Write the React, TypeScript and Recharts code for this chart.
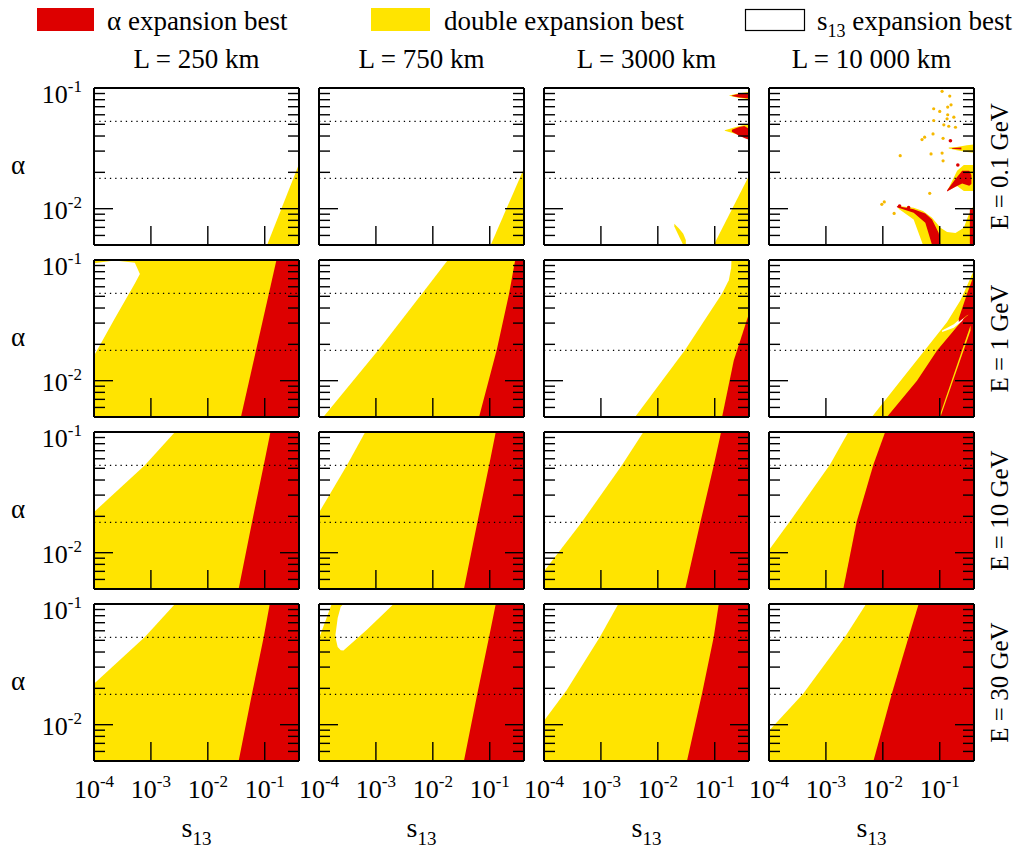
import React from "react";
import { Area, ComposedChart, ReferenceLine, Scatter, XAxis, YAxis } from "recharts";

const FONT = "'Liberation Serif', 'Times New Roman', serif";
const RED = "#dd0000";
const YELLOW = "#ffe400";

const S13_DOMAIN: [number, number] = [1e-4, 0.4];
const ALPHA_DOMAIN: [number, number] = [0.005, 0.1];

const xMajorTicks = [1e-4, 1e-3, 1e-2, 1e-1];
const xMinorTicks = [
  2e-4, 3e-4, 4e-4, 5e-4, 6e-4, 7e-4, 8e-4, 9e-4,
  2e-3, 3e-3, 4e-3, 5e-3, 6e-3, 7e-3, 8e-3, 9e-3,
  2e-2, 3e-2, 4e-2, 5e-2, 6e-2, 7e-2, 8e-2, 9e-2,
  0.2, 0.3,
];
const yMajorTicks = [0.01, 0.1];
const yMinorTicks = [0.006, 0.007, 0.008, 0.009, 0.02, 0.03, 0.04, 0.05, 0.06, 0.07, 0.08, 0.09];
const dottedAlpha = [0.0528, 0.0178];

const columnTitles = ["L = 250 km", "L = 750 km", "L = 3000 km", "L = 10 000 km"];
const rowTitles = ["E = 0.1 GeV", "E = 1 GeV", "E = 10 GeV", "E = 30 GeV"];

// each point: [s13, alpha low, alpha high]
type Pt = [number, number, number];

const fullPanel: Pt[] = [[1e-4, 0.005, 0.1], [0.4, 0.005, 0.1]];

// E = 0.1 GeV
const p11Yellow: Pt[] = [[0.11, 0.005, 0.005], [0.4, 0.005, 0.0234]];
const p12Yellow: Pt[] = [[0.104, 0.005, 0.005], [0.4, 0.005, 0.0216]];
const p13Yellow: Pt[] = [[0.096, 0.005, 0.005], [0.4, 0.005, 0.0187]];
const p13Sliver: Pt[] = [[0.0195, 0.0071, 0.0075], [0.024, 0.0058, 0.0068], [0.028, 0.005, 0.0062], [0.031, 0.005, 0.0055]];
const p13FlareY1: Pt[] = [[0.18, 0.0862, 0.0868], [0.27, 0.0825, 0.0905], [0.4, 0.0805, 0.0925]];
const p13FlareR1: Pt[] = [[0.2, 0.0858, 0.0866], [0.27, 0.0835, 0.0895], [0.4, 0.082, 0.091]];
const p13FlareY2: Pt[] = [[0.15, 0.0442, 0.0446], [0.22, 0.042, 0.047], [0.3, 0.04, 0.049], [0.4, 0.038, 0.05]];
const p13FlareR2: Pt[] = [[0.2, 0.0435, 0.045], [0.26, 0.0405, 0.0472], [0.33, 0.0385, 0.0485], [0.4, 0.0372, 0.046]];
const p14YellowBowl: Pt[] = [
  [0.0189, 0.01, 0.0105], [0.0348, 0.00815, 0.0102], [0.0508, 0.005, 0.00957], [0.0733, 0.005, 0.0084],
  [0.1028, 0.005, 0.00695], [0.1346, 0.005, 0.0064], [0.189, 0.005, 0.0063], [0.265, 0.005, 0.00695],
  [0.316, 0.005, 0.0087], [0.372, 0.005, 0.0102], [0.4, 0.005, 0.0105],
];
const p14RedCrescent: Pt[] = [
  [0.0177, 0.01026, 0.0105], [0.0348, 0.00926, 0.00987], [0.0558, 0.00764, 0.00914],
  [0.0733, 0.005, 0.00815], [0.096, 0.005, 0.0063], [0.1028, 0.005, 0.005],
];
const p14RedStrip: Pt[] = [[0.338, 0.005, 0.0099], [0.4, 0.005, 0.0099]];
const p14YellowUpper: Pt[] = [[0.138, 0.0141, 0.0143], [0.202, 0.01545, 0.0206], [0.265, 0.014, 0.023], [0.4, 0.014, 0.023]];
const p14RedClaw: Pt[] = [[0.1346, 0.0139, 0.0142], [0.189, 0.0152, 0.0176], [0.248, 0.0162, 0.0206], [0.33, 0.0155, 0.0206], [0.36, 0.016, 0.019]];
const p14YellowStreak: Pt[] = [[0.144, 0.0315, 0.0322], [0.2, 0.0305, 0.0325], [0.3, 0.0295, 0.0335], [0.4, 0.029, 0.034]];
const p14RedStreak: Pt[] = [[0.165, 0.0313, 0.0319], [0.24, 0.031, 0.0322]];
const dots14Yellow: [number, number][] = [
  [0.11, 0.0938], [0.15, 0.0858], [0.158, 0.0726], [0.138, 0.0695], [0.0783, 0.0673], [0.1, 0.064],
  [0.138, 0.06], [0.177, 0.0573], [0.0783, 0.0538], [0.1346, 0.0555], [0.118, 0.0495], [0.144, 0.0482],
  [0.189, 0.0473], [0.0762, 0.0416], [0.0543, 0.0391], [0.0488, 0.0374], [0.1145, 0.0383], [0.0703, 0.0284],
  [0.11, 0.0289], [0.0202, 0.0275], [0.1145, 0.0249], [0.0667, 0.0134], [0.0106, 0.01137], [0.0096, 0.01087],
  [0.0158, 0.00914],
];
const dots14Red: [number, number][] = [[0.154, 0.0366], [0.208, 0.023], [0.0284, 0.0102], [0.0197, 0.0105]];

// E = 1 GeV
const p21White: Pt[] = [[1e-4, 0.0161, 0.094], [2.317e-4, 0.0327, 0.099], [5.22e-4, 0.064, 0.095], [6.4e-4, 0.0764, 0.0764]];
const p21Red: Pt[] = [[0.0382, 0.005, 0.005], [0.1607, 0.005, 0.1], [0.4, 0.005, 0.1]];
const p22White: Pt[] = [[1e-4, 0.005, 0.1], [1.19e-4, 0.005, 0.1], [1.114e-3, 0.018, 0.1], [6.49e-3, 0.0527, 0.1], [1.84e-2, 0.1, 0.1]];
const p22Red: Pt[] = [[0.0649, 0.005, 0.005], [0.133, 0.005, 0.018], [0.219, 0.005, 0.0527], [0.28, 0.005, 0.1], [0.4, 0.005, 0.1]];
const p23White: Pt[] = [
  [1e-4, 0.005, 0.1], [3.98e-3, 0.005, 0.1], [3.03e-2, 0.018, 0.1], [0.1346, 0.0527, 0.1],
  [0.1766, 0.068, 0.1], [0.194, 0.0853, 0.1], [0.197, 0.1, 0.1],
];
const p23Red: Pt[] = [[0.1346, 0.005, 0.005], [0.216, 0.005, 0.0147], [0.4, 0.005, 0.036]];
const p24Yellow: Pt[] = [[6.4e-3, 0.005, 0.005], [0.1028, 0.005, 0.0261], [0.1346, 0.005, 0.0306], [0.2317, 0.005, 0.0464], [0.4, 0.005, 0.0826]];
const p24Red: Pt[] = [[1.18e-2, 0.005, 0.005], [0.0398, 0.005, 0.01], [0.0897, 0.005, 0.0178], [0.1766, 0.005, 0.0261], [0.265, 0.005, 0.0327], [0.4, 0.005, 0.0383]];
const p24WhiteCrack: Pt[] = [[0.11, 0.0253, 0.0261], [0.1766, 0.0275, 0.0293], [0.248, 0.0312, 0.0337], [0.29, 0.036, 0.0385]];
const p24RedFinger: Pt[] = [[0.216, 0.0306, 0.0327], [0.303, 0.0348, 0.0527], [0.4, 0.036, 0.075]];
const p24YellowStreak: Pt[] = [[0.1028, 0.005, 0.00535], [0.3475, 0.0261, 0.0287]];

// E = 10 GeV
const p31White: Pt[] = [[1e-4, 0.0217, 0.1], [7.83e-4, 0.0531, 0.1], [2.65e-3, 0.1, 0.1]];
const p31Red: Pt[] = [[0.0348, 0.005, 0.005], [0.0597, 0.005, 0.0179], [0.096, 0.005, 0.0531], [0.126, 0.005, 0.1], [0.4, 0.005, 0.1]];
const p32White: Pt[] = [[1e-4, 0.0215, 0.1], [3.08e-4, 0.0527, 0.1], [6.49e-4, 0.1, 0.1]];
const p32Red: Pt[] = [[0.0352, 0.005, 0.005], [0.0605, 0.005, 0.0178], [0.0973, 0.005, 0.0527], [0.1276, 0.005, 0.1], [0.4, 0.005, 0.1]];
const p33White: Pt[] = [[1e-4, 0.00703, 0.1], [4.56e-4, 0.0178, 0.1], [2.32e-3, 0.0527, 0.1], [5.58e-3, 0.1, 0.1]];
const p33Red: Pt[] = [[0.0303, 0.005, 0.005], [0.0558, 0.005, 0.0178], [0.096, 0.005, 0.0527], [0.1294, 0.005, 0.1], [0.4, 0.005, 0.1]];
const p34White: Pt[] = [[1e-4, 0.0105, 0.1], [2.32e-4, 0.0181, 0.1], [1.18e-3, 0.0538, 0.1], [2.48e-3, 0.1, 0.1]];
const p34Red: Pt[] = [[2.02e-3, 0.005, 0.005], [3.48e-3, 0.005, 0.0181], [6.84e-3, 0.005, 0.0538], [1.1e-2, 0.005, 0.1], [0.4, 0.005, 0.1]];

// E = 30 GeV
const p41White: Pt[] = [[1e-4, 0.0218, 0.1], [7.83e-4, 0.0534, 0.1], [2.65e-3, 0.1, 0.1]];
const p41Red: Pt[] = [[0.0348, 0.005, 0.005], [0.0597, 0.005, 0.018], [0.096, 0.005, 0.0534], [0.1225, 0.005, 0.1], [0.4, 0.005, 0.1]];
const p42WhiteCorner: Pt[] = [[1e-4, 0.0518, 0.1], [1.67e-4, 0.1, 0.1]];
const p42WhiteBlob: Pt[] = [
  [1.95e-4, 0.055, 0.056], [2.0e-4, 0.0501, 0.0611], [2.13e-4, 0.0441, 0.0764], [2.41e-4, 0.0414, 0.095],
  [2.69e-4, 0.0411, 0.1], [6.93e-4, 0.0611, 0.1], [2.05e-3, 0.1, 0.1],
];
const p42Red: Pt[] = [[0.0352, 0.005, 0.005], [0.0605, 0.005, 0.018], [0.0973, 0.005, 0.0534], [0.1276, 0.005, 0.1], [0.4, 0.005, 0.1]];
const p43White: Pt[] = [[1e-4, 0.0108, 0.1], [2.48e-4, 0.0192, 0.1], [9.6e-4, 0.0534, 0.1], [2.02e-3, 0.1, 0.1]];
const p43Red: Pt[] = [[0.0325, 0.005, 0.005], [0.0597, 0.005, 0.018], [0.096, 0.005, 0.0534], [0.1178, 0.005, 0.1], [0.4, 0.005, 0.1]];
const p44White: Pt[] = [[1e-4, 0.0089, 0.1], [3.98e-4, 0.018, 0.1], [2.16e-3, 0.0534, 0.1], [5.08e-3, 0.1, 0.1]];
const p44Red: Pt[] = [[6.84e-3, 0.005, 0.005], [1.44e-2, 0.005, 0.018], [2.84e-2, 0.005, 0.0534], [4.26e-2, 0.005, 0.1], [0.4, 0.005, 0.1]];

type Shape = { fill: string; pts: Pt[] };
type Spec = { shapes: Shape[]; yellowDots?: [number, number][]; redDots?: [number, number][] };

const y = (pts: Pt[]): Shape => ({ fill: YELLOW, pts });
const r = (pts: Pt[]): Shape => ({ fill: RED, pts });
const w = (pts: Pt[]): Shape => ({ fill: "#ffffff", pts });

const panels: Spec[][] = [
  [
    { shapes: [y(p11Yellow)] },
    { shapes: [y(p12Yellow)] },
    { shapes: [y(p13Yellow), y(p13Sliver), y(p13FlareY1), r(p13FlareR1), y(p13FlareY2), r(p13FlareR2)] },
    {
      shapes: [y(p14YellowBowl), r(p14RedCrescent), r(p14RedStrip), y(p14YellowUpper), r(p14RedClaw), y(p14YellowStreak), r(p14RedStreak)],
      yellowDots: dots14Yellow,
      redDots: dots14Red,
    },
  ],
  [
    { shapes: [y(fullPanel), w(p21White), r(p21Red)] },
    { shapes: [y(fullPanel), w(p22White), r(p22Red)] },
    { shapes: [y(fullPanel), w(p23White), r(p23Red)] },
    { shapes: [y(p24Yellow), r(p24Red), w(p24WhiteCrack), r(p24RedFinger), y(p24YellowStreak)] },
  ],
  [
    { shapes: [y(fullPanel), w(p31White), r(p31Red)] },
    { shapes: [y(fullPanel), w(p32White), r(p32Red)] },
    { shapes: [y(fullPanel), w(p33White), r(p33Red)] },
    { shapes: [y(fullPanel), w(p34White), r(p34Red)] },
  ],
  [
    { shapes: [y(fullPanel), w(p41White), r(p41Red)] },
    { shapes: [y(fullPanel), w(p42WhiteCorner), w(p42WhiteBlob), r(p42Red)] },
    { shapes: [y(fullPanel), w(p43White), r(p43Red)] },
    { shapes: [y(fullPanel), w(p44White), r(p44Red)] },
  ],
];

const PW = 205;
const PH = 157;
const X0 = 94;
const Y0 = 88;
const DX = 225;
const DY = 172;
const M = 20;
const LABEL_W = 86;
const LABEL_H = 56;

function EmptyTick() {
  return <g />;
}

// labels of the bottom row: placed below the frame, x from the axis scale
function XLabelTick(props: any) {
  const { x, payload } = props;
  const e = Math.round(Math.log10(payload.value));
  return (
    <text x={x} y={M + PH + 37} textAnchor="middle" style={{ fontFamily: FONT }} fontSize={26} fill="#000">
      10<tspan dy={-11} fontSize={17}>{e}</tspan>
    </text>
  );
}

// labels of the left column: right-aligned left of the frame, y from the axis scale
function YLabelTick(props: any) {
  const { y: ty, payload } = props;
  const e = Math.round(Math.log10(payload.value));
  return (
    <text x={M + LABEL_W - 12} y={ty + (e === -1 ? 15 : 10)} textAnchor="end" style={{ fontFamily: FONT }} fontSize={26} fill="#000">
      10<tspan dy={-11} fontSize={17}>{e}</tspan>
    </text>
  );
}

const tickStyle = { stroke: "#000", strokeWidth: 1.4 };
const frameStyle = { stroke: "#000", strokeWidth: 2 };

function Panel({ row, col, spec }: { row: number; col: number; spec: Spec }) {
  const left = col === 0 ? LABEL_W : 0;
  const bottom = row === 3 ? LABEL_H : 0;
  const xCommon = { type: "number" as const, scale: "log" as const, domain: S13_DOMAIN, allowDataOverflow: true, interval: 0 as const, mirror: true, height: 1 };
  const yCommon = { type: "number" as const, scale: "log" as const, domain: ALPHA_DOMAIN, allowDataOverflow: true, interval: 0 as const, mirror: true, width: 1 };
  return (
    <div style={{ position: "absolute", left: X0 + col * DX - M - left, top: Y0 + row * DY - M }}>
      <ComposedChart
        width={M * 2 + left + PW}
        height={M * 2 + bottom + PH}
        margin={{ top: M, right: M, bottom: M + bottom, left: M + left }}
      >
        {spec.shapes.map((sh, i) => (
          <Area
            key={i}
            xAxisId="x"
            yAxisId="y"
            data={sh.pts.map((p) => ({ s: p[0], r: [p[1], p[2]] }))}
            dataKey="r"
            type="linear"
            stroke="none"
            fill={sh.fill}
            fillOpacity={1}
            dot={false}
            activeDot={false}
            isAnimationActive={false}
          />
        ))}
        {spec.yellowDots && (
          <Scatter
            xAxisId="x"
            yAxisId="y"
            data={spec.yellowDots.map(([s, a]) => ({ s, a }))}
            dataKey="a"
            isAnimationActive={false}
            shape={(p: any) => <circle cx={p.cx} cy={p.cy} r={1.6} fill="#f5b800" />}
          />
        )}
        {spec.redDots && (
          <Scatter
            xAxisId="x"
            yAxisId="y"
            data={spec.redDots.map(([s, a]) => ({ s, a }))}
            dataKey="a"
            isAnimationActive={false}
            shape={(p: any) => <circle cx={p.cx} cy={p.cy} r={1.8} fill={RED} />}
          />
        )}
        {dottedAlpha.map((a) => (
          <ReferenceLine key={a} xAxisId="x" yAxisId="y" y={a} stroke="#000" strokeWidth={1.3} strokeDasharray="1.3 4" />
        ))}
        <XAxis xAxisId="x" dataKey="s" {...xCommon} orientation="bottom" ticks={xMajorTicks} tick={row === 3 ? <XLabelTick /> : <EmptyTick />} tickSize={19} tickLine={tickStyle} axisLine={frameStyle} />
        <XAxis xAxisId="xm" {...xCommon} orientation="bottom" ticks={xMinorTicks} tick={<EmptyTick />} tickSize={10} tickLine={tickStyle} axisLine={false} />
        <XAxis xAxisId="xt" {...xCommon} orientation="top" ticks={xMajorTicks} tick={<EmptyTick />} tickSize={19} tickLine={tickStyle} axisLine={frameStyle} />
        <XAxis xAxisId="xtm" {...xCommon} orientation="top" ticks={xMinorTicks} tick={<EmptyTick />} tickSize={10} tickLine={tickStyle} axisLine={false} />
        <YAxis yAxisId="y" {...yCommon} orientation="left" ticks={yMajorTicks} tick={col === 0 ? <YLabelTick /> : <EmptyTick />} tickSize={19} tickLine={tickStyle} axisLine={frameStyle} />
        <YAxis yAxisId="ym" {...yCommon} orientation="left" ticks={yMinorTicks} tick={<EmptyTick />} tickSize={10} tickLine={tickStyle} axisLine={false} />
        <YAxis yAxisId="yr" {...yCommon} orientation="right" ticks={yMajorTicks} tick={<EmptyTick />} tickSize={19} tickLine={tickStyle} axisLine={frameStyle} />
        <YAxis yAxisId="yrm" {...yCommon} orientation="right" ticks={yMinorTicks} tick={<EmptyTick />} tickSize={10} tickLine={tickStyle} axisLine={false} />
      </ComposedChart>
    </div>
  );
}

export default function App() {
  return (
    <div style={{ position: "absolute", left: 0, top: 0, width: 1016, height: 850, background: "#fff" }}>
      {panels.map((rowSpecs, row) =>
        rowSpecs.map((spec, col) => <Panel key={`${row}-${col}`} row={row} col={col} spec={spec} />),
      )}
      <svg width={1016} height={850} style={{ position: "absolute", left: 0, top: 0, pointerEvents: "none", fontFamily: FONT }}>
        <rect x={37} y={8} width={57} height={23} fill={RED} />
        <text x={107} y={30} fontSize={27}>α expansion best</text>
        <rect x={371} y={8} width={59} height={23} fill={YELLOW} />
        <text x={444} y={30} fontSize={27}>double expansion best</text>
        <rect x={745.5} y={9.5} width={59} height={21} fill="#fff" stroke="#000" strokeWidth={1.2} />
        <text x={817} y={30} fontSize={27}>
          s<tspan dy={7} fontSize={18}>13</tspan>
          <tspan dy={-7}> expansion best</tspan>
        </text>
        {columnTitles.map((t, c) => (
          <text key={t} x={X0 + c * DX + PW / 2} y={68} fontSize={27} textAnchor="middle">{t}</text>
        ))}
        {rowTitles.map((t, rr) => {
          const cy = Y0 + rr * DY + PH / 2;
          return (
            <text key={t} x={1008} y={cy} fontSize={25} textAnchor="middle" transform={`rotate(-90 1008 ${cy})`}>{t}</text>
          );
        })}
        {rowTitles.map((t, rr) => (
          <text key={`a${t}`} x={18} y={Y0 + rr * DY + PH / 2 + 7} fontSize={27} textAnchor="middle">α</text>
        ))}
        {columnTitles.map((t, c) => (
          <text key={`s${t}`} x={X0 + c * DX + PW / 2} y={837} fontSize={28} textAnchor="middle">
            s<tspan dy={8} fontSize={19}>13</tspan>
          </text>
        ))}
      </svg>
    </div>
  );
}
